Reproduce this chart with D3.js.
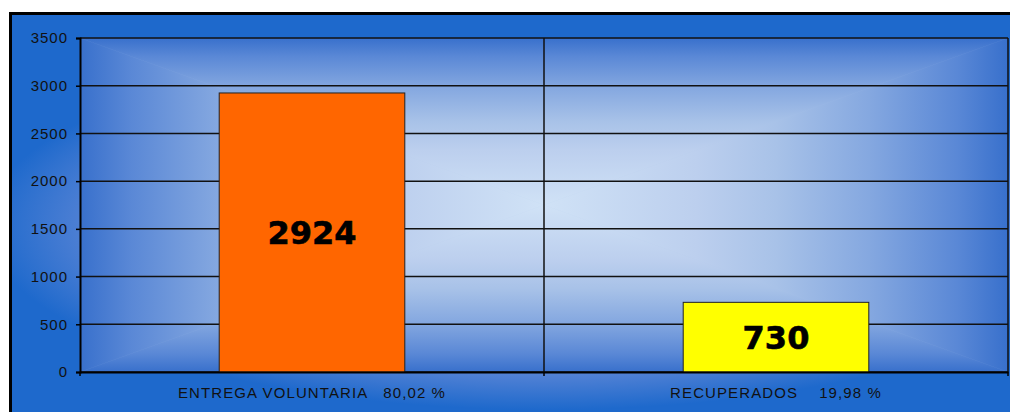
<!DOCTYPE html>
<html>
<head>
<meta charset="utf-8">
<script src="https://cdn.jsdelivr.net/npm/d3@7"></script>
<style>
  html, body { margin: 0; padding: 0; background: #fff; overflow: hidden; }
  text { font-family: "Liberation Sans", Arial, sans-serif; }
</style>
</head>
<body>
<div class="graph"></div>
<script>
var categories = ['ENTREGA VOLUNTARIA   80,02 %', 'RECUPERADOS    19,98 %'];
var values = [2924, 730];
var barColors = ['#ff6600', '#ffff00'];
var yTicks = [0, 500, 1000, 1500, 2000, 2500, 3000, 3500];

var width = 1010, height = 412;
var margin = { left: 80, right: 2, top: 38, bottom: 40 };

// "from center" shading: [distance from centre (0..1), colour]
var plotShade = [
    [0, '#d0e2f6'],
    [0.33, '#bccfee'],
    [0.5, '#a8c2e8'],
    [0.7, '#85a8e0'],
    [0.89, '#5a88d6'],
    [1, '#3870cc']
];

var svg = d3.select('.graph')
    .append('svg')
    .attr('width', width)
    .attr('height', height);

var defs = svg.append('defs');

// outer chart area gradient
var outer = defs.append('radialGradient')
    .attr('id', 'outerBg')
    .attr('gradientUnits', 'userSpaceOnUse')
    .attr('cx', 545).attr('cy', 225).attr('r', 560)
    .attr('gradientTransform', 'translate(545,225) scale(1,0.33) translate(-545,-225)');
outer.append('stop').attr('offset', '0').attr('stop-color', '#d0e2f6');
outer.append('stop').attr('offset', '0.55').attr('stop-color', '#8eaee2');
outer.append('stop').attr('offset', '0.82').attr('stop-color', '#4f80d4');
outer.append('stop').attr('offset', '1').attr('stop-color', '#1e69cc');

svg.append('rect')
    .attr('x', 10.5).attr('y', 13.5)
    .attr('width', 1010).attr('height', 410)
    .attr('fill', 'url(#outerBg)')
    .attr('stroke', '#000')
    .attr('stroke-width', 3);

var x = d3.scaleBand()
    .domain(categories)
    .range([margin.left, width - margin.right])
    .padding(0);

var y = d3.scaleLinear()
    .domain([0, 3500])
    .range([height - margin.bottom, margin.top]);

// plot area: rectangular gradient built from four triangles
var L = margin.left, R = width - margin.right, T = y(3500), B = y(0);
var cx = (L + R) / 2, cy = (T + B) / 2;

var sides = [
    { id: 'shTop', pts: [[L, T], [R, T], [cx, cy]], g: [cx, T, cx, cy] },
    { id: 'shBottom', pts: [[L, B], [R, B], [cx, cy]], g: [cx, B, cx, cy] },
    { id: 'shLeft', pts: [[L, T], [L, B], [cx, cy]], g: [L, cy, cx, cy] },
    { id: 'shRight', pts: [[R, T], [R, B], [cx, cy]], g: [R, cy, cx, cy] }
];

sides.forEach(function (s) {
    var lg = defs.append('linearGradient')
        .attr('id', s.id)
        .attr('gradientUnits', 'userSpaceOnUse')
        .attr('x1', s.g[0]).attr('y1', s.g[1])
        .attr('x2', s.g[2]).attr('y2', s.g[3]);
    plotShade.slice().reverse().forEach(function (st) {
        lg.append('stop')
            .attr('offset', 1 - st[0])
            .attr('stop-color', st[1]);
    });
});

svg.append('rect')
    .attr('x', L).attr('y', T)
    .attr('width', R - L).attr('height', B - T)
    .attr('fill', '#a8c2e8');

svg.append('g')
    .selectAll('polygon')
    .data(sides)
    .enter()
    .append('polygon')
    .attr('points', function (d) { return d.pts.map(function (p) { return p.join(','); }).join(' '); })
    .attr('fill', function (d) { return 'url(#' + d.id + ')'; })
    .attr('stroke', function (d) { return 'url(#' + d.id + ')'; })
    .attr('stroke-width', 0.6);

// gridlines
svg.append('g')
    .selectAll('line')
    .data(yTicks)
    .enter()
    .append('line')
    .attr('x1', L)
    .attr('x2', R)
    .attr('y1', function (d) { return y(d); })
    .attr('y2', function (d) { return y(d); })
    .attr('stroke', '#111')
    .attr('stroke-width', 1.5);

// category dividers
svg.append('g')
    .selectAll('line')
    .data(categories.slice(1).concat(['end']))
    .enter()
    .append('line')
    .attr('x1', function (d) { return d === 'end' ? R : x(d); })
    .attr('x2', function (d) { return d === 'end' ? R : x(d); })
    .attr('y1', T)
    .attr('y2', B)
    .attr('stroke', '#111')
    .attr('stroke-width', 1.5);

// bars
var barW = x.bandwidth() * 0.4;
svg.append('g')
    .selectAll('rect')
    .data(values)
    .enter()
    .append('rect')
    .attr('x', function (d, i) { return x(categories[i]) + (x.bandwidth() - barW) / 2; })
    .attr('y', function (d) { return y(d); })
    .attr('width', barW)
    .attr('height', function (d) { return y(0) - y(d); })
    .attr('fill', function (d, i) { return barColors[i]; })
    .attr('stroke', '#222')
    .attr('stroke-width', 1);

// value labels
svg.append('g')
    .selectAll('text')
    .data(values)
    .enter()
    .append('text')
    .attr('x', function (d, i) { return x(categories[i]) + x.bandwidth() / 2; })
    .attr('y', function (d) { return y(d / 2); })
    .attr('dy', '0.36em')
    .attr('text-anchor', 'middle')
    .style('font-family', '"DejaVu Sans", sans-serif')
    .style('font-weight', 'bold')
    .style('font-size', '32px')
    .attr('fill', '#000')
    .attr('stroke', '#000')
    .attr('stroke-width', 0.6)
    .text(function (d) { return d; });

// y axis
var yAxis = d3.axisLeft(y)
    .tickValues(yTicks)
    .tickFormat(d3.format('d'))
    .tickSize(4)
    .tickPadding(8);

var yg = svg.append('g')
    .attr('transform', 'translate(' + L + ',0)')
    .call(yAxis);
yg.select('.domain').attr('stroke', '#000').attr('stroke-width', 2);
yg.selectAll('.tick line').attr('stroke', '#000').attr('stroke-width', 1.5);
yg.selectAll('.tick text')
    .style('font-size', '15px')
    .style('letter-spacing', '1px')
    .attr('fill', '#111');

// x axis
var xAxis = d3.axisBottom(x)
    .tickSize(0)
    .tickPadding(15);

var xg = svg.append('g')
    .attr('transform', 'translate(0,' + B + ')')
    .call(xAxis);
xg.select('.domain').attr('stroke', '#000').attr('stroke-width', 2);
xg.selectAll('.tick text')
    .style('font-size', '15px')
    .style('letter-spacing', '1.1px')
    .style('white-space', 'pre')
    .attr('fill', '#111');

// x ticks at category boundaries
svg.append('g')
    .selectAll('line')
    .data([L, x(categories[1]), R])
    .enter()
    .append('line')
    .attr('x1', function (d) { return d; })
    .attr('x2', function (d) { return d; })
    .attr('y1', B)
    .attr('y2', B + 4)
    .attr('stroke', '#000')
    .attr('stroke-width', 1.5);
</script>
</body>
</html>
